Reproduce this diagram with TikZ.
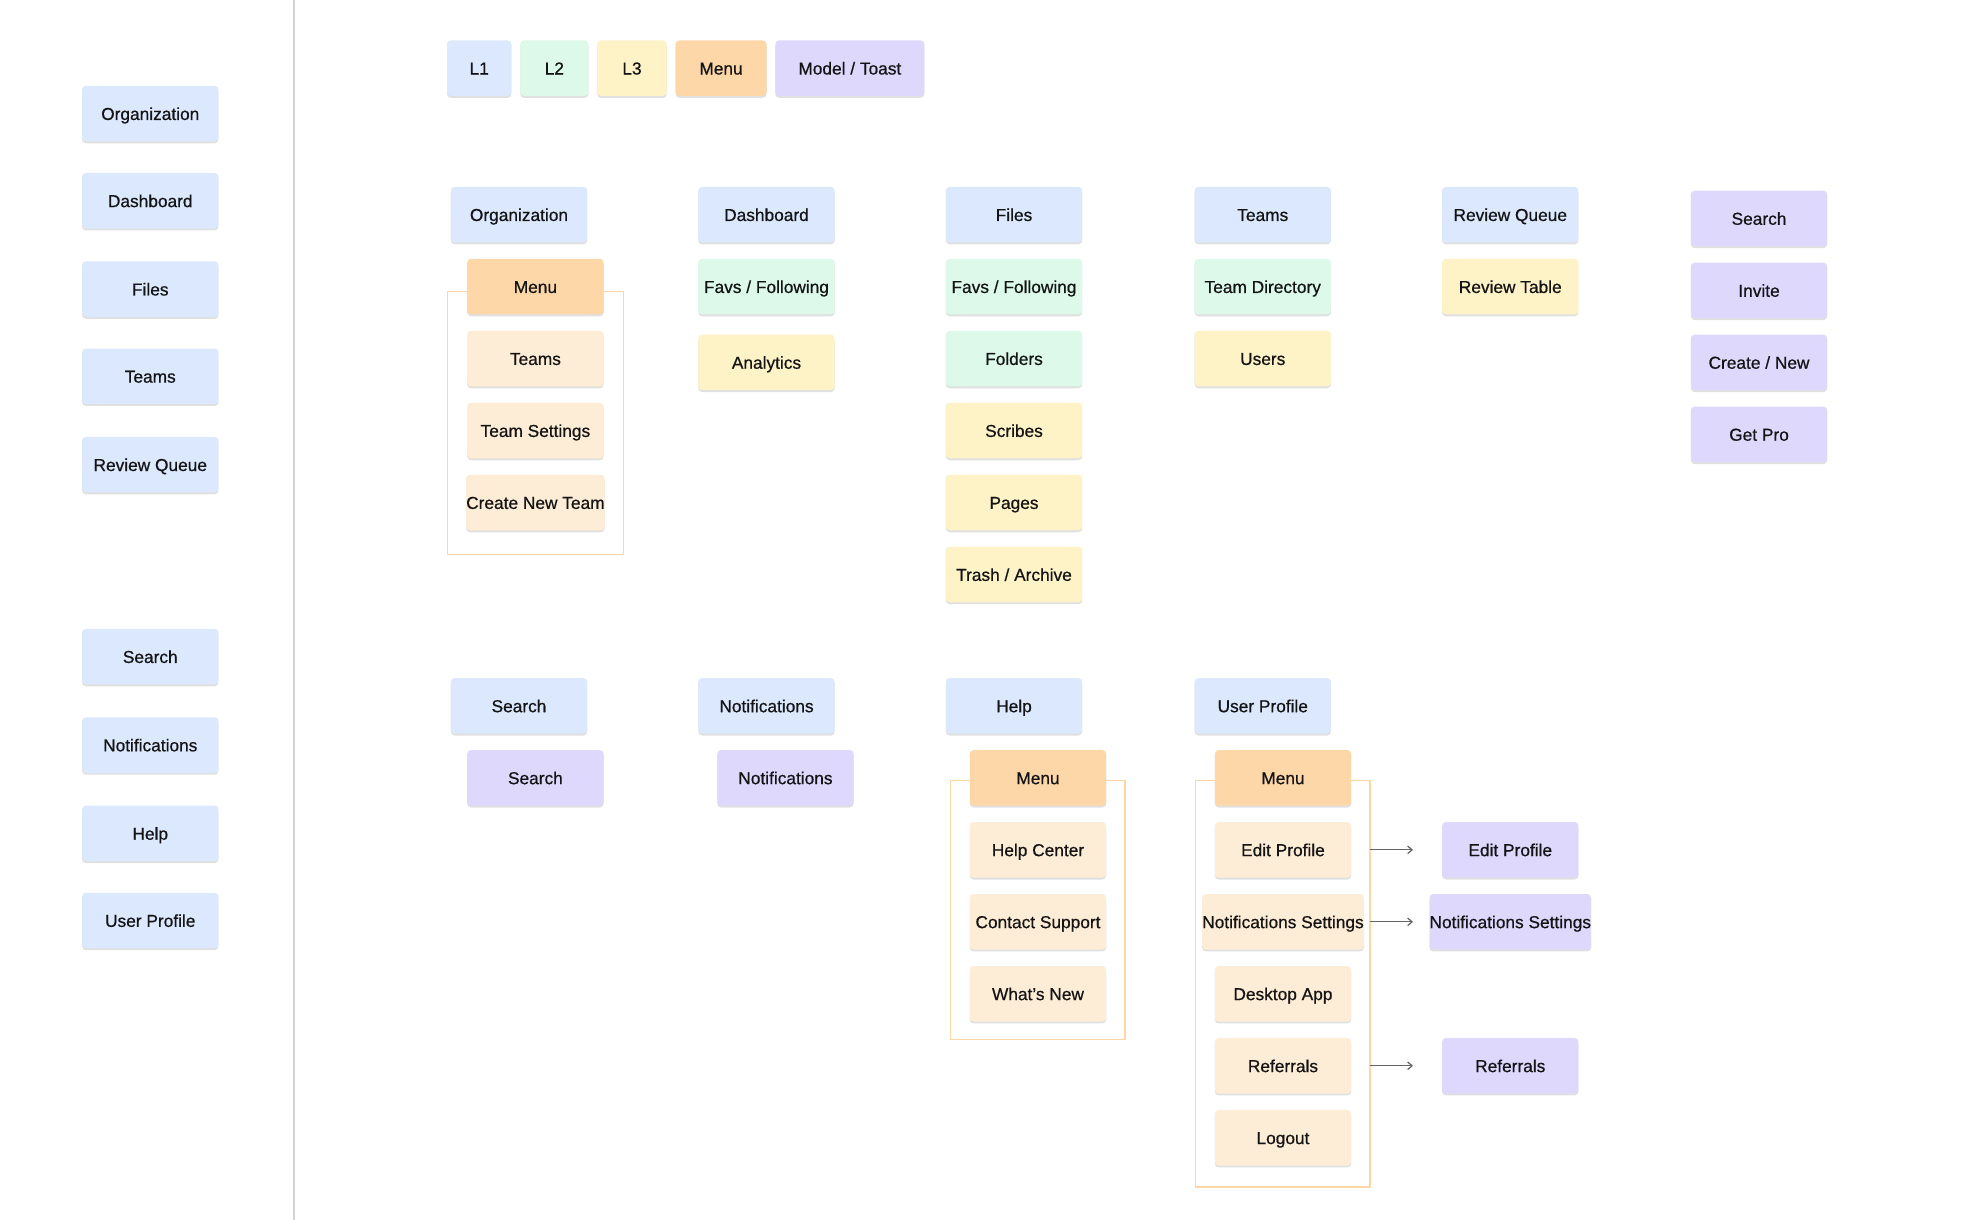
\documentclass[tikz,border=0pt]{standalone}
\usepackage{fontspec}
\setmainfont{Liberation Sans}
\newfontfamily\boxfont{Liberation Sans}[BoldFont={Liberation Sans}, BoldFeatures={FakeBold=0.6}]
\usetikzlibrary{shadows,arrows.meta}
\definecolor{cL1}{HTML}{DBE8FD}
\definecolor{cL2}{HTML}{DCF9E9}
\definecolor{cL3}{HTML}{FEF2C7}
\definecolor{cMenu}{HTML}{FDD7A8}
\definecolor{cItem}{HTML}{FEEDD6}
\definecolor{cModal}{HTML}{DED8FD}
\definecolor{cFrame}{HTML}{FDD6A4}
\definecolor{cText}{HTML}{141414}
\definecolor{cDiv}{HTML}{D4D4D4}
\definecolor{cArrow}{HTML}{666666}
\tikzset{
  box/.style={rectangle, rounded corners=3pt, minimum width=108pt, minimum height=44pt,
    inner sep=0pt, text=cText, font=\boxfont\bfseries\fontsize{13.7}{16}\selectfont,
    text height=11pt, text depth=1pt,
    drop shadow={shadow xshift=0pt, shadow yshift=-1.5pt, opacity=0.12, fill=black}},
  l1/.style={box, fill=cL1},
  l2/.style={box, fill=cL2},
  l3/.style={box, fill=cL3},
  menubox/.style={box, fill=cMenu},
  item/.style={box, fill=cItem},
  modal/.style={box, fill=cModal},
  frame/.style={draw=cFrame, line width=1pt},
  conn/.style={draw=cArrow, line width=1pt, -{Straight Barb[length=3.5pt,width=6pt]}},
}
\begin{document}
\begin{tikzpicture}[x=1pt,y=-1pt]
\useasboundingbox (0,0) rectangle (1568,966);
\fill[white] (0,0) rectangle (1568,966);
% divider
\coordinate (dtop) at (233,0);
\coordinate (dbot) at (233,966);
\draw[cDiv, line width=2pt] (dtop) -- (dbot);

% left column
\node[l1] (lorg) at (119,90) {Organization};
\node[l1] (ldash) at (119,159) {Dashboard};
\node[l1] (lfiles) at (119,229) {Files};
\node[l1] (lteams) at (119,298) {Teams};
\node[l1] (lrq) at (119,368) {Review Queue};
\node[l1] (lsearch) at (119,520) {Search};
\node[l1] (lnotif) at (119,590) {Notifications};
\node[l1] (lhelp) at (119,660) {Help};
\node[l1] (lprof) at (119,729) {User Profile};

% legend
\node[l1, minimum width=51pt] (gl1) at (379.5,54) {L1};
\node[l2, minimum width=54pt] (gl2) at (439,54) {L2};
\node[l3, minimum width=55pt] (gl3) at (500.5,54) {L3};
\node[menubox, minimum width=72pt] (gmenu) at (571,54) {Menu};
\node[modal, minimum width=118pt] (gmodal) at (673,54) {Model / Toast};

% column 1: Organization
\draw[frame] (354.5,231) rectangle (493.5,439);
\node[l1] (org) at (411,170) {Organization};
\node[menubox] (orgmenu) at (424,227) {Menu};
\node[item] (orgteams) at (424,284) {Teams};
\node[item] (orgts) at (424,341) {Team Settings};
\node[item] (orgcnt) at (424,398) {Create New Team};

% column 2: Dashboard
\node[l1] (dash) at (607,170) {Dashboard};
\node[l2] (dfav) at (607,227) {Favs / Following};
\node[l3] (dana) at (607,287) {Analytics};

% column 3: Files
\node[l1] (files) at (803,170) {Files};
\node[l2] (ffav) at (803,227) {Favs / Following};
\node[l2] (ffold) at (803,284) {Folders};
\node[l3] (fscr) at (803,341) {Scribes};
\node[l3] (fpag) at (803,398) {Pages};
\node[l3] (ftrash) at (803,455) {Trash / Archive};

% column 4: Teams
\node[l1] (teams) at (1000,170) {Teams};
\node[l2] (tdir) at (1000,227) {Team Directory};
\node[l3] (tusers) at (1000,284) {Users};

% column 5: Review Queue
\node[l1] (rq) at (1196,170) {Review Queue};
\node[l3] (rtab) at (1196,227) {Review Table};

% column 6: modals
\node[modal] (msearch) at (1393,173) {Search};
\node[modal] (minvite) at (1393,230) {Invite};
\node[modal] (mcreate) at (1393,287) {Create / New};
\node[modal] (mpro) at (1393,344) {Get Pro};

% bottom: Search
\node[l1] (search) at (411,559) {Search};
\node[modal] (searchm) at (424,616) {Search};

% bottom: Notifications
\node[l1] (notif) at (607,559) {Notifications};
\node[modal] (notifm) at (622,616) {Notifications};

% bottom: Help
\draw[frame] (753,618) rectangle (891,823);
\node[l1] (help) at (803,559) {Help};
\node[menubox] (helpmenu) at (822,616) {Menu};
\node[item] (hcenter) at (822,673) {Help Center};
\node[item] (hcontact) at (822,730) {Contact Support};
\node[item] (hnew) at (822,787) {What’s New};

% bottom: User Profile
\draw[frame] (947,618) rectangle (1085,940);
\node[l1] (prof) at (1000,559) {User Profile};
\node[menubox] (pmenu) at (1016,616) {Menu};
\node[item] (pedit) at (1016,673) {Edit Profile};
\node[item] (pnotif) at (1016,730) {Notifications Settings};
\node[item] (pdesk) at (1016,787) {Desktop App};
\node[item] (pref) at (1016,844) {Referrals};
\node[item] (plog) at (1016,901) {Logout};

% modals from profile menu
\node[modal] (medit) at (1196,673) {Edit Profile};
\node[modal] (mnotif) at (1196,730) {Notifications Settings};
\node[modal] (mref) at (1196,844) {Referrals};

% connectors
\coordinate (a1s) at (1085,673); \coordinate (a1e) at (1119,673);
\coordinate (a2s) at (1085,730); \coordinate (a2e) at (1119,730);
\coordinate (a3s) at (1085,844); \coordinate (a3e) at (1119,844);
\draw[conn] (a1s) -- (a1e);
\draw[conn] (a2s) -- (a2e);
\draw[conn] (a3s) -- (a3e);
\end{tikzpicture}
\end{document}
